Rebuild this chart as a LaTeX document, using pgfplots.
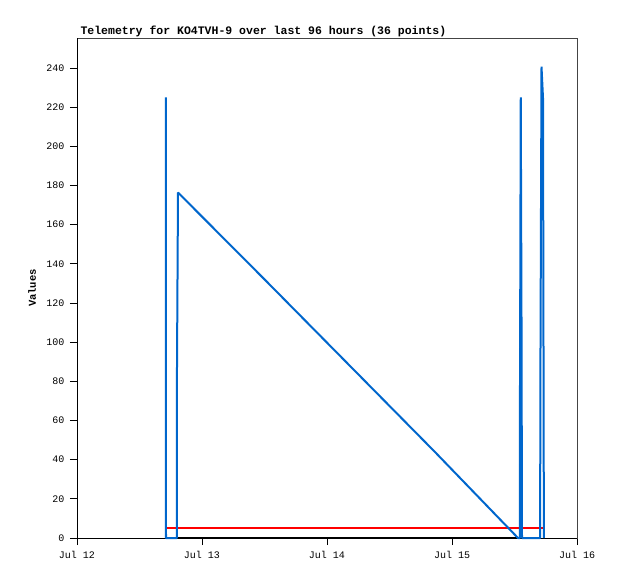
\documentclass[border=0pt]{standalone}
\usepackage{pgfplots}
\pgfplotsset{compat=1.18}
\usepackage{fontspec}
\setmainfont{Liberation Mono}
\definecolor{tblue}{HTML}{0066CC}
\definecolor{framegray}{HTML}{444444}
\begin{document}
\begin{tikzpicture}[x=1pt,y=1pt]
\path[use as bounding box] (-77pt,-41pt) rectangle (541pt,538pt);
\begin{axis}[
  scale only axis, width=500pt, height=500pt,
  xmin=0, xmax=4, ymin=0, ymax=255.3,
  clip=false,
  xtick={0,1,2,3,4},
  xticklabels={Jul 12,Jul 13,Jul 14,Jul 15,Jul 16},
  ytick={0,20,...,240},
  tick align=outside, tick pos=left,
  major tick length=7pt,
  every tick/.style={black, line width=0.8pt},
  axis line style={draw=framegray, line width=0.8pt},
  /pgf/number format/assume math mode=true,
  tick label style={font=\fontsize{10}{11}\selectfont},
  xticklabel style={yshift=-3pt},
  yticklabel style={xshift=-2pt},
  ylabel={Values},
  every axis y label/.style={at={(axis description cs:-0.09,0.5)}, rotate=90, anchor=center, font=\bfseries\fontsize{10.5}{11}\selectfont},
  title={Telemetry for KO4TVH-9 over last 96 hours (36 points)},
  every axis title/.style={at={(axis description cs:0,1)}, anchor=base west, yshift=3pt, font=\bfseries\fontsize{11.5}{12}\selectfont},
]
\draw[black, line width=0.8pt] (rel axis cs:0,0) -- (rel axis cs:0,1);
\draw[black, line width=0.8pt] (rel axis cs:0,0) -- (rel axis cs:1,0);
\addplot[black, line width=2pt] coordinates {(0.705,0) (3.70,0)};
\addplot[red, line width=2pt] coordinates {(0.712,5) (3.744,5)};
\addplot[tblue, line width=2pt, line join=bevel] coordinates {
(0.710,0) (0.711,225) (0.712,0) (0.799,0) (0.800,88) (0.808,176.4)
(1.504,131.8) (2.864,43.9) (3.528,0) (3.542,0) (3.544,80) (3.550,225)
(3.556,112) (3.560,0) (3.705,0) (3.707,80) (3.716,240.7) (3.728,224.6) (3.735,0)
};
\end{axis}
\end{tikzpicture}
\end{document}
